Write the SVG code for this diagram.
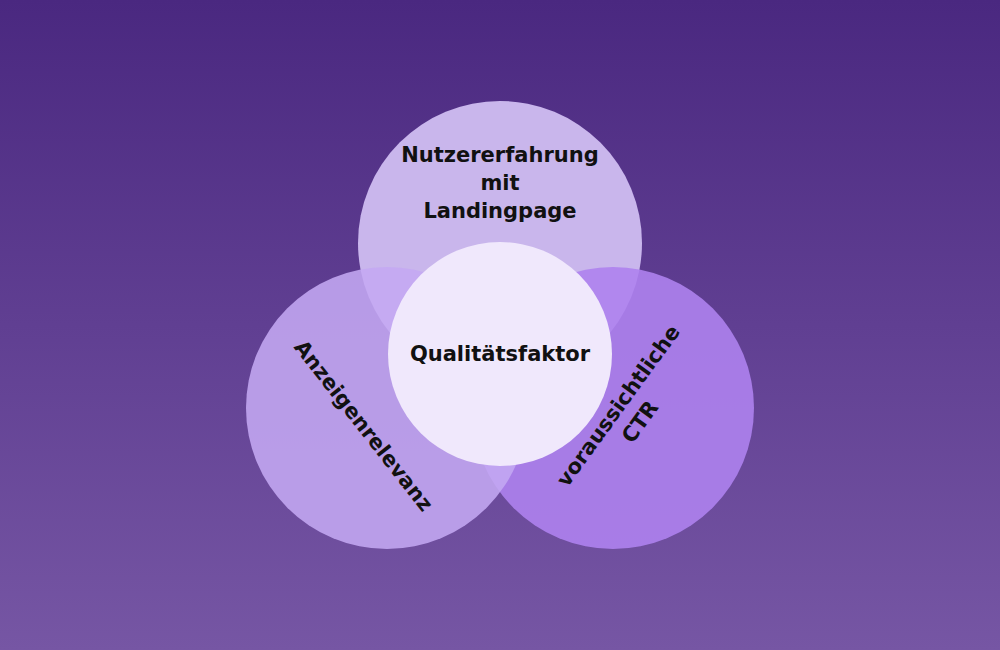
<svg xmlns="http://www.w3.org/2000/svg" width="1000" height="650" viewBox="0 0 1000 650">
<defs>
<linearGradient id="bg" x1="0" y1="0" x2="0" y2="1">
<stop offset="0" stop-color="#4a2880"/>
<stop offset="1" stop-color="#7656a4"/>
</linearGradient>
</defs>
<style>
text{font-family:"DejaVu Sans","Liberation Sans",sans-serif;font-weight:700;font-size:21px;fill:#111;text-anchor:middle}
</style>
<rect width="1000" height="650" fill="url(#bg)"/>
<g id="top"><circle cx="500" cy="243" r="142" fill="#c9b6ec"/>
<text x="500" y="162">Nutzererfahrung</text><text x="500" y="190">mit</text><text x="500" y="218">Landingpage</text></g>
<g id="right"><circle cx="613" cy="408" r="141" fill="#ae82ee" fill-opacity="0.9"/>
<text transform="translate(624,410) rotate(-54)"><tspan x="0" y="0">voraussichtliche</tspan><tspan x="0" y="27">CTR</tspan></text></g>
<g id="left"><circle cx="387" cy="408" r="141" fill="#c4a8f2" fill-opacity="0.88"/>
<text transform="translate(358,430) rotate(52)">Anzeigenrelevanz</text></g>
<g id="center"><circle cx="500" cy="354" r="112" fill="#f0e8fc"/>
<text x="500" y="361">Qualitätsfaktor</text></g>
<g id="connectors"/>
</svg>
